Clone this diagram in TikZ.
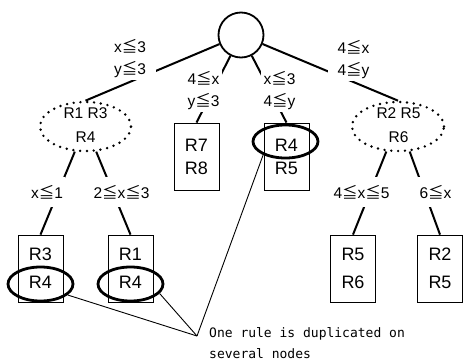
\documentclass[tikz,border=0pt]{standalone}
\usepackage{fontspec}
\setmainfont{Liberation Sans}
\newfontfamily\cjk{Noto Sans CJK JP}
\newfontfamily\annfont{DejaVu Sans Mono}
\usetikzlibrary{shapes.geometric}
\newcommand{\myle}{{\cjk ≦}}
\begin{document}
\begin{tikzpicture}[x=1pt,y=-1pt,
  edge/.style={line width=2pt},
  thinline/.style={line width=0.9pt},
  rootnode/.style={circle,draw,line width=1.8pt,minimum size=45pt,inner sep=0pt},
  dotell/.style={ellipse,draw,line width=2.7pt,dash pattern=on 0pt off 6.8pt,line cap=round,minimum width=91pt,minimum height=49pt,inner sep=0pt},
  elltext/.style={align=center,font=\fontsize{15.5}{24}\selectfont,inner sep=0pt},
  rulebox/.style={draw,line width=0.8pt,minimum width=45pt,minimum height=67pt,inner sep=0pt,align=center},
  upbox/.style={rulebox,font=\fontsize{18}{23}\selectfont},
  lowbox/.style={rulebox,font=\fontsize{18}{28}\selectfont},
  hl/.style={ellipse,draw,line width=2.8pt,minimum width=65pt,minimum height=34pt,inner sep=0pt},
  labup/.style={fill=white,align=center,font=\fontsize{15.5}{22}\selectfont,inner xsep=10pt,inner ysep=2pt},
  lablow/.style={fill=white,align=center,font=\fontsize{15.5}{22}\selectfont,inner xsep=2pt,inner ysep=8pt},
  anntext/.style={align=left,anchor=west,inner sep=0pt,font=\annfont\fontsize{13}{21}\selectfont}
]
\useasboundingbox (0,0) rectangle (463,362);

% nodes
\node[rootnode] (root) at (241,35) {};
\node[dotell] (ell1) at (85.5,126.5) {};
\node[elltext] (ell1t) at (85.5,125) {R1 R3\\R4};
\node[dotell,minimum width=92pt] (ell2) at (398,126.5) {};
\node[elltext] (ell2t) at (398.5,125) {R2 R5\\R6};
\node[upbox] (b3) at (196.5,156.5) {R7\\R8};
\node[upbox] (b4) at (286.5,156.5) {R4\\R5};
\node[lowbox] (b1) at (40.5,268.5) {R3\\R4};
\node[lowbox] (b2) at (130.5,268.5) {R1\\R4};
\node[lowbox] (b5) at (353,268.5) {R5\\R6};
\node[lowbox] (b6) at (440,268.5) {R2\\R5};

% highlight ellipses
\node[hl] (h1) at (40.5,284) {};
\node[hl] (h2) at (130.5,284) {};
\node[hl,minimum height=33pt] (h3) at (285.5,141.5) {};

% edges
\draw[edge] (root) -- (ell1.north);
\draw[edge] (root) -- (b3.north);
\draw[edge] (root) -- (b4.north);
\draw[edge] (root) -- (ell2.north);
\draw[edge] (ell1.247) -- (b1.north);
\draw[edge] (ell1.293) -- (b2.north);
\draw[edge] (ell2.245) -- (b5.north);
\draw[edge] (ell2.295) -- (b6.north);

% edge labels
\node[labup] (l1) at (130,59) {x\myle3\\y\myle3};
\node[labup,inner xsep=3pt] (l2) at (203.5,91) {4\myle x\\y\myle3};
\node[labup,inner xsep=3pt] (l3) at (279.5,91) {x\myle3\\4\myle y};
\node[labup] (l4) at (353.5,60) {4\myle x\\4\myle y};
\node[lablow] (l5) at (47,192) {x\myle1};
\node[lablow] (l6) at (121.5,192) {2\myle x\myle3};
\node[lablow] (l7) at (361.5,192) {4\myle x\myle5};
\node[lablow] (l8) at (435.5,192) {6\myle x};

% annotation
\coordinate (apex) at (197,336);
\draw[thinline] (h1.338) -- (apex);
\draw[thinline] (h2.342) -- (apex);
\draw[thinline] (h3.211) -- (apex);
\node[anntext] (ann) at (209,343) {One rule is duplicated on\\several nodes};
\end{tikzpicture}
\end{document}
